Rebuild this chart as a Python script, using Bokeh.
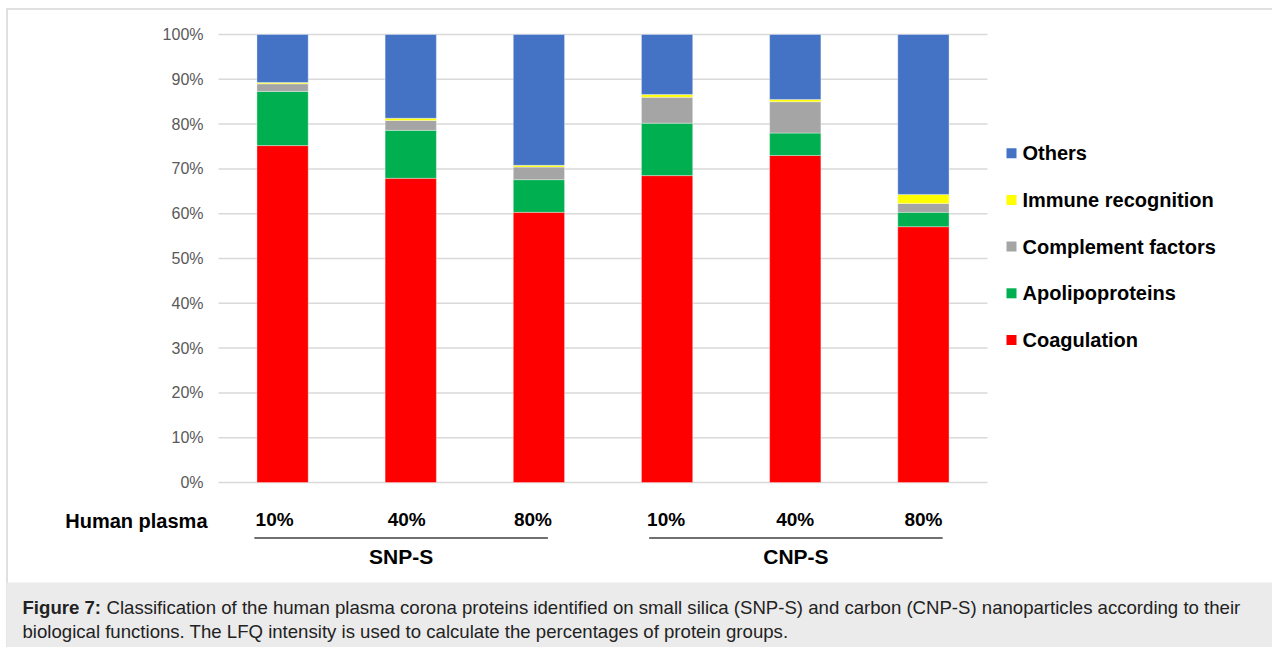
from bokeh.plotting import figure
from bokeh.models import Range1d, ColumnDataSource
from bokeh.core.properties import value
from bokeh.embed import file_html
from bokeh.resources import INLINE

# ---- data -------------------------------------------------------------
plasma_levels = ["10%", "40%", "80%", "10%", "40%", "80%"]
particle_groups = ["SNP-S", "CNP-S"]
group_members = [[0, 1, 2], [3, 4, 5]]

coagulation = [75.2, 67.9, 60.3, 68.5, 73.0, 57.1]
apolipoproteins = [12.1, 10.7, 7.3, 11.7, 5.0, 3.2]
complement_factors = [1.7, 2.2, 2.8, 5.8, 7.0, 2.0]
immune_recognition = [0.3, 0.5, 0.4, 0.6, 0.5, 2.0]
others = [10.7, 18.7, 29.2, 13.4, 14.5, 35.7]

series_names = ["Coagulation", "Apolipoproteins", "Complement factors",
                "Immune recognition", "Others"]
series_values = [coagulation, apolipoproteins, complement_factors,
                 immune_recognition, others]
series_colors = ["#FF0000", "#00B050", "#A5A5A5", "#FFFF00", "#4472C4"]

y_ticks = [0, 10, 20, 30, 40, 50, 60, 70, 80, 90, 100]
y_tick_labels = [f"{t}%" for t in y_ticks]

caption_bold = "Figure 7:"
caption_line1 = ("Classification of the human plasma corona proteins identified on small "
                 "silica (SNP-S) and carbon (CNP-S) nanoparticles according to their")
caption_line2 = ("biological functions. The LFQ intensity is used to calculate the "
                 "percentages of protein groups.")

# ---- layout (canvas pixels, y measured from the top) ------------------
W, H = 1272, 647
PLOT_LEFT, PLOT_RIGHT = 218, 987
PLOT_TOP, PLOT_BOTTOM = 34, 482
SLOT = (PLOT_RIGHT - PLOT_LEFT) / len(plasma_levels)
PX_PER_PCT = (PLOT_BOTTOM - PLOT_TOP) / 100.0
# hand-placed text boxes under the columns sit slightly off-centre
LABEL_NUDGE = [-8, -4, -6, -1, 0, 0]

FONT = value("Liberation Sans")

p = figure(width=W, height=H, output_backend="svg", toolbar_location=None,
           x_range=Range1d(0, W), y_range=Range1d(H, 0),
           x_axis_location=None, y_axis_location=None, min_border=0)
p.grid.visible = False
p.outline_line_color = None
p.background_fill_color = "white"
p.border_fill_color = "white"

# percentage scale for the bars, category-slot scale for the columns
p.extra_y_ranges = {"pct": Range1d(start=-(H - PLOT_BOTTOM) / PX_PER_PCT,
                                   end=100 + PLOT_TOP / PX_PER_PCT)}
p.extra_x_ranges = {"cat": Range1d(start=-PLOT_LEFT / SLOT - 0.5,
                                   end=(W - PLOT_LEFT) / SLOT - 0.5)}

# frame of the figure panel and the caption box
p.segment(x0=[6, 6.5], y0=[8.5, 8], x1=[W, 6.5], y1=[8.5, H],
          line_color="#d6d6d6", line_width=1.5)
p.quad(left=[6], right=[W], top=[582], bottom=[H],
       fill_color="#ebebeb", line_color=None)

# horizontal gridlines
p.segment(x0=[PLOT_LEFT] * len(y_ticks), x1=[PLOT_RIGHT] * len(y_ticks),
          y0=y_ticks, y1=y_ticks, y_range_name="pct",
          line_color="#d9d9d9", line_width=1.5)

# stacked bars
idx = list(range(len(plasma_levels)))
data = {"idx": idx}
for name, vals in zip(series_names, series_values):
    data[name] = vals
src = ColumnDataSource(data)
p.vbar_stack(series_names, x="idx", width=0.4, source=src,
             fill_color=series_colors, line_color="white", line_alpha=0.35,
             line_width=1, x_range_name="cat", y_range_name="pct")

# y tick labels
p.text(x=[203] * len(y_ticks), y=y_ticks, text=y_tick_labels, y_range_name="pct",
       text_align="right", text_baseline="middle", text_font=FONT,
       text_font_size=value("16px"), text_color="#595959")

# category labels
lbl_src = ColumnDataSource({"x": idx, "y": [519] * len(idx),
                            "text": plasma_levels, "dx": LABEL_NUDGE})
p.text(x="x", y="y", text="text", x_offset="dx", source=lbl_src,
       x_range_name="cat", text_align="center", text_baseline="middle",
       text_font=FONT, text_font_style="bold", text_font_size=value("19px"),
       text_color="#000000")
p.text(x=[207], y=[520], text=["Human plasma"],
       text_align="right", text_baseline="middle", text_font=FONT,
       text_font_style="bold", text_font_size=value("20px"), text_color="#000000")

# group underlines and names
line_x0 = [group_members[0][0] - 0.22, group_members[1][0] - 0.14]
line_x1 = [group_members[0][-1] + 0.07, group_members[1][-1] + 0.15]
p.segment(x0=line_x0, x1=line_x1, y0=[537.5, 537.5], y1=[537.5, 537.5],
          x_range_name="cat", line_color="#404040", line_width=1.5)
p.text(x=[(a + b) / 2 for a, b in zip(line_x0, line_x1)], y=[556, 556],
       text=particle_groups, x_range_name="cat",
       text_align="center", text_baseline="middle", text_font=FONT,
       text_font_style="bold", text_font_size=value("21px"), text_color="#000000")

# legend (top entry = top of the stack)
legend_names = list(reversed(series_names))
legend_colors = list(reversed(series_colors))
rows = [152.7 + 46.7 * i for i in range(len(legend_names))]
p.rect(x=[1011] * len(rows), y=rows, width=10, height=10,
       fill_color=legend_colors, line_color=None)
p.text(x=[1022] * len(rows), y=rows, text=legend_names,
       text_align="left", text_baseline="middle", text_font=FONT,
       text_font_style="bold", text_font_size=value("20px"), text_color="#000000")

# caption
p.text(x=[22], y=[607], text=[caption_bold], text_align="left",
       text_baseline="middle", text_font=FONT, text_font_style="bold",
       text_font_size=value("18.6px"), text_color="#222222")
p.text(x=[106, 22], y=[607, 631], text=[caption_line1, caption_line2],
       text_align="left", text_baseline="middle", text_font=FONT,
       text_font_size=value("18.6px"), text_color="#222222")

open("out.html", "w").write(file_html(p, INLINE))
